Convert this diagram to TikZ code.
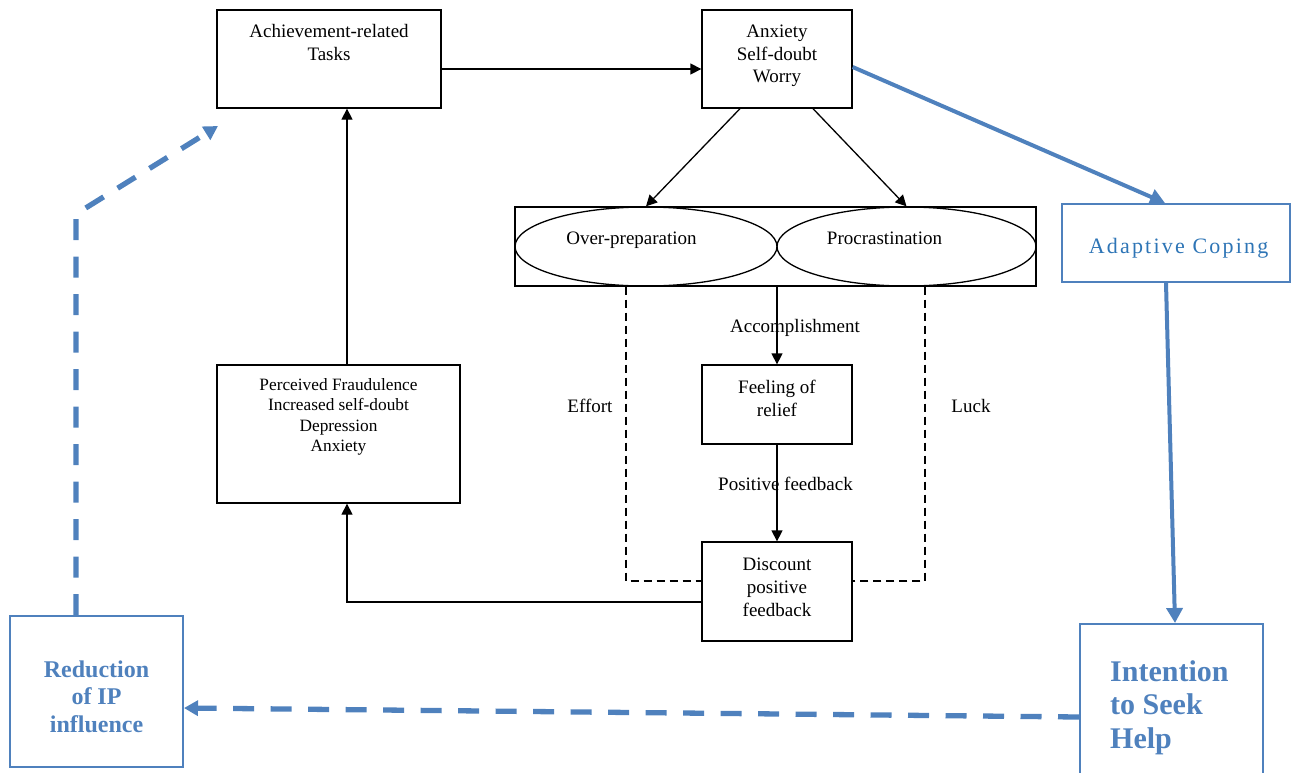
\documentclass[tikz,border=0pt]{standalone}
\usepackage{fontspec}
\setmainfont{Liberation Serif}
\usetikzlibrary{arrows.meta,shapes.geometric}
\definecolor{ipblue}{RGB}{79,129,189}
\definecolor{copeblue}{RGB}{46,117,182}
\begin{document}
\begin{tikzpicture}[x=1pt,y=-1pt,
  blkbox/.style={draw=black,line width=1.3pt,rectangle,inner sep=0pt},
  oval/.style={draw=black,line width=1.3pt,ellipse,inner sep=0pt},
  bluebox/.style={draw=ipblue,line width=2pt,rectangle,inner sep=0pt},
  lbl/.style={inner sep=0pt,anchor=base,align=center,font=\fontsize{19}{22.6}\selectfont},
  arr/.style={draw=black,line width=1.3pt,-{Triangle[length=11pt,width=11pt]}},
  dsh/.style={draw=black,line width=1.3pt,dash pattern=on 8pt off 5pt},
  barr/.style={draw=ipblue,line width=4pt,-{Triangle[length=15pt,width=16pt]}},
  bdash/.style={draw=ipblue,line width=5.3pt,dash pattern=on 21pt off 16.5pt,-{Triangle[length=14pt,width=15pt]}}
]
\useasboundingbox (0,0) rectangle (1293,772);
\clip (0,0) rectangle (1293,772);

% boxes of the cycle
\node[blkbox,minimum width=224,minimum height=98] (tasks) at (329,59) {};
\node[blkbox,minimum width=150,minimum height=98] (anx) at (777,59) {};
\node[blkbox,minimum width=521,minimum height=79] (frame) at (775.5,246.5) {};
\node[oval,minimum width=262,minimum height=79] (over) at (646,246.5) {};
\node[oval,minimum width=259,minimum height=79] (proc) at (906.5,246.5) {};
\node[blkbox,minimum width=243,minimum height=138] (perc) at (338.5,434) {};
\node[blkbox,minimum width=150,minimum height=79] (feel) at (777,404.5) {};
\node[blkbox,minimum width=150,minimum height=99] (disc) at (777,591.5) {};

% coping path boxes
\node[bluebox,minimum width=228,minimum height=78] (adapt) at (1176,243) {};
\node[bluebox,minimum width=183,minimum height=200] (intent) at (1171.5,724) {};
\node[bluebox,minimum width=173,minimum height=151] (red) at (96.5,691.5) {};

% texts (anchored on the baseline of their last line)
\node[lbl] (tasksT) at (329,60) {Achievement-related\\Tasks};
\node[lbl] (anxT) at (777,82.7) {Anxiety\\Self-doubt\\Worry};
\node[lbl] (overT) at (631.5,244) {Over-preparation};
\node[lbl] (procT) at (884.5,244) {Procrastination};
\node[lbl,font=\fontsize{17.3}{20.4}\selectfont] (percT) at (338.5,451.7)
  {Perceived Fraudulence\\Increased self-doubt\\Depression\\Anxiety};
\node[lbl] (feelT) at (777,416) {Feeling of\\relief};
\node[lbl] (discT) at (777,616) {Discount\\positive\\feedback};
\node[lbl] (accT) at (795,332) {Accomplishment};
\node[lbl] (posT) at (785.5,490.7) {Positive feedback};
\node[lbl] (effT) at (590,412.7) {Effort};
\node[lbl] (luckT) at (971,412.7) {Luck};
\node[lbl,text=copeblue,font=\fontsize{22}{26}\selectfont\addfontfeature{LetterSpace=10}] (adaptT) at (1178.5,253) {Adaptive Coping};
\node[inner sep=0pt,anchor=base west,align=left,text=ipblue,font=\fontsize{30}{33.5}\selectfont\bfseries] (intentT) at (1110,748) {Intention\\to Seek\\Help};
\node[lbl,text=ipblue,font=\fontsize{24}{27.8}\selectfont\bfseries] (redT) at (96.5,732.7) {Reduction\\of IP\\influence};

% black connectors
\draw[arr] ([yshift=-10pt]tasks.east) -- ([yshift=-10pt]anx.west);
\draw[arr] ([xshift=-37pt]anx.south) -- (over.north);
\draw[arr] ([xshift=36pt]anx.south) -- (proc.north);
\draw[arr] (feel.north |- frame.south) -- (feel.north);
\draw[arr] (feel.south) -- (disc.north);
\draw[arr] ([yshift=-10.5pt]disc.west) -| ([xshift=8.5pt]perc.south);
\draw[arr] ([xshift=8.5pt]perc.north) -- ([xshift=8.5pt]perc.north |- tasks.south);
\draw[dsh] ([xshift=-149.5pt]frame.south) |- ([yshift=10.5pt]disc.west);
\draw[dsh] ([xshift=149.5pt]frame.south) |- ([yshift=10.5pt]disc.east);

% blue connectors
\draw[barr] ([yshift=-8pt]anx.east) -- ([xshift=-11pt]adapt.north);
\draw[barr] ([xshift=-10pt]adapt.south) -- ([xshift=3.5pt]intent.north);
\draw[bdash] ([yshift=7pt]intent.west) -- ([yshift=-16.5pt]red.east);
\coordinate (bend) at (76,214);
\coordinate (tasksTip) at (218,126);
\draw[bdash] ([xshift=-20.5pt]red.north) -- (bend) -- (tasksTip);
\end{tikzpicture}
\end{document}
